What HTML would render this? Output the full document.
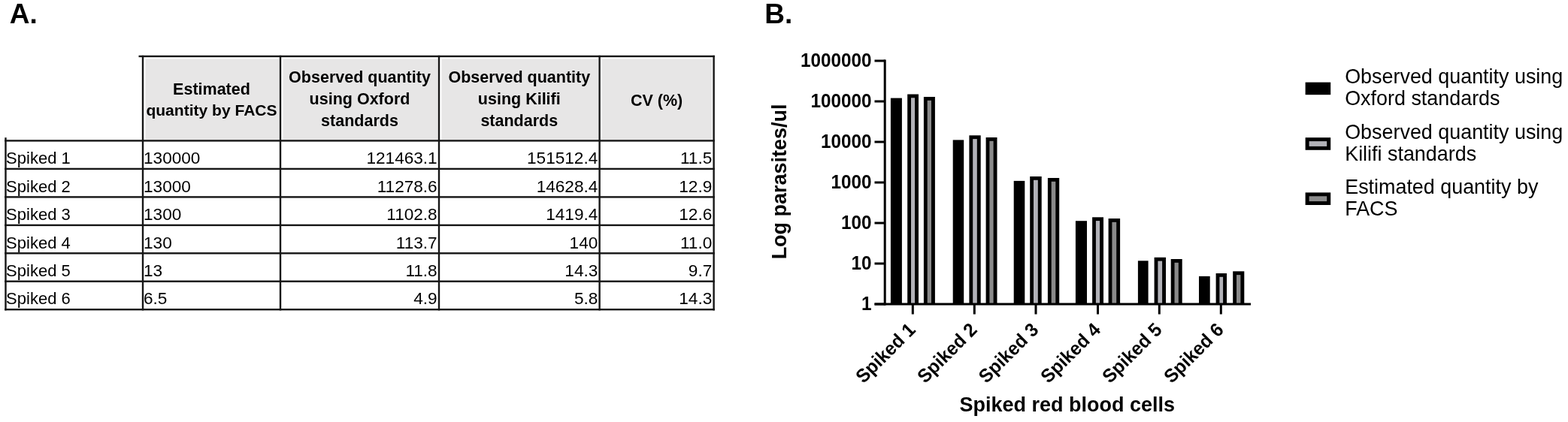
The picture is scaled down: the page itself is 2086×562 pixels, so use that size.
<!DOCTYPE html>
<html lang="en"><head><meta charset="utf-8"><title>Figure</title>
<style>
html,body{margin:0;padding:0;background:#fff;}
body{width:2086px;height:562px;position:relative;overflow:hidden;font-family:"Liberation Sans",Arial,sans-serif;color:#000;}
.lbl{position:absolute;font-weight:bold;font-size:37px;line-height:37px;white-space:nowrap;}
#tbl{position:absolute;left:0;top:0;width:1000px;height:562px;}
.ht{position:absolute;font-weight:bold;font-size:21.5px;line-height:24px;height:24px;text-align:center;white-space:nowrap;}
.c{position:absolute;font-size:22px;line-height:24px;height:24px;white-space:nowrap;}
.r{text-align:right;}
.n{font-size:22.6px;}
svg{position:absolute;left:0;top:0;}
svg text{font-family:"Liberation Sans",Arial,sans-serif;fill:#000;}
</style></head><body>

<svg width="2086" height="562" viewBox="0 0 2086 562">
<rect x="193.5" y="78.5" width="178.0" height="107.4" fill="#e7e6e6"/>
<rect x="376.5" y="78.5" width="206.0" height="107.4" fill="#e7e6e6"/>
<rect x="587.5" y="78.5" width="208.6" height="107.4" fill="#e7e6e6"/>
<rect x="801.1" y="78.5" width="146.1" height="107.4" fill="#e7e6e6"/>
<rect x="184.5" y="73.8" width="766.3" height="2.4" fill="#161616"/>
<rect x="6.2" y="186.2" width="944.6" height="2.4" fill="#161616"/>
<rect x="6.2" y="223.7" width="944.6" height="2.4" fill="#161616"/>
<rect x="6.2" y="261.2" width="944.6" height="2.4" fill="#161616"/>
<rect x="6.2" y="298.7" width="944.6" height="2.4" fill="#161616"/>
<rect x="6.2" y="336.1" width="944.6" height="2.4" fill="#161616"/>
<rect x="6.2" y="373.5" width="944.6" height="2.4" fill="#161616"/>
<rect x="6.2" y="411.0" width="944.6" height="2.4" fill="#161616"/>
<rect x="6.3" y="183.2" width="2.4" height="230.2" fill="#161616"/>
<rect x="188.8" y="73.8" width="2.4" height="339.6" fill="#161616"/>
<rect x="371.8" y="73.8" width="2.4" height="339.6" fill="#161616"/>
<rect x="582.8" y="73.8" width="2.4" height="339.6" fill="#161616"/>
<rect x="796.4" y="73.8" width="2.4" height="339.6" fill="#161616"/>
<rect x="948.4" y="73.8" width="2.4" height="339.6" fill="#161616"/>
<rect x="1184.9" y="130.6" width="15.0" height="274.4" fill="#000"/>
<rect x="1207.2" y="125.5" width="14.8" height="279.5" fill="#000"/>
<rect x="1212.0" y="130.3" width="5.1" height="274.7" fill="#b2b2b8"/>
<rect x="1228.9" y="129.0" width="15.0" height="276.0" fill="#000"/>
<rect x="1233.7" y="133.8" width="5.3" height="271.2" fill="#8a8a8a"/>
<rect x="1267.7" y="186.4" width="14.5" height="218.6" fill="#000"/>
<rect x="1289.4" y="180.3" width="15.3" height="224.7" fill="#000"/>
<rect x="1294.2" y="185.1" width="5.6" height="219.9" fill="#b2b2b8"/>
<rect x="1311.6" y="183.0" width="14.9" height="222.0" fill="#000"/>
<rect x="1316.4" y="187.8" width="5.2" height="217.2" fill="#8a8a8a"/>
<rect x="1348.7" y="240.9" width="14.6" height="164.1" fill="#000"/>
<rect x="1370.2" y="235.0" width="15.5" height="170.0" fill="#000"/>
<rect x="1375.0" y="239.8" width="5.8" height="165.2" fill="#b2b2b8"/>
<rect x="1393.9" y="237.0" width="15.3" height="168.0" fill="#000"/>
<rect x="1398.7" y="241.8" width="5.6" height="163.2" fill="#8a8a8a"/>
<rect x="1430.9" y="294.2" width="15.1" height="110.8" fill="#000"/>
<rect x="1453.1" y="289.3" width="14.9" height="115.7" fill="#000"/>
<rect x="1457.9" y="294.1" width="5.2" height="110.9" fill="#b2b2b8"/>
<rect x="1474.6" y="291.0" width="15.5" height="114.0" fill="#000"/>
<rect x="1479.4" y="295.8" width="5.8" height="109.2" fill="#8a8a8a"/>
<rect x="1513.9" y="347.3" width="13.7" height="57.7" fill="#000"/>
<rect x="1535.6" y="342.8" width="15.4" height="62.2" fill="#000"/>
<rect x="1540.4" y="347.6" width="5.7" height="57.4" fill="#b2b2b8"/>
<rect x="1557.7" y="345.0" width="15.0" height="60.0" fill="#000"/>
<rect x="1562.5" y="349.8" width="5.3" height="55.2" fill="#8a8a8a"/>
<rect x="1595.0" y="367.9" width="14.7" height="37.1" fill="#000"/>
<rect x="1617.6" y="364.0" width="14.4" height="41.0" fill="#000"/>
<rect x="1622.4" y="368.8" width="4.7" height="36.2" fill="#b2b2b8"/>
<rect x="1640.2" y="361.3" width="15.1" height="43.7" fill="#000"/>
<rect x="1645.0" y="366.1" width="5.4" height="38.9" fill="#8a8a8a"/>
<rect x="1175.7" y="79.5" width="3" height="327.0" fill="#000"/>
<rect x="1163.5" y="403.5" width="500.5" height="3" fill="#000"/>
<rect x="1163.5" y="403.5" width="14" height="3" fill="#000"/>
<text transform="translate(1159.4,413.0) scale(1,1.06)" font-size="24.3" font-weight="bold" text-anchor="end">1</text>
<rect x="1163.5" y="349.5" width="14" height="3" fill="#000"/>
<text transform="translate(1159.4,359.0) scale(1,1.06)" font-size="24.3" font-weight="bold" text-anchor="end">10</text>
<rect x="1163.5" y="295.5" width="14" height="3" fill="#000"/>
<text transform="translate(1159.4,305.0) scale(1,1.06)" font-size="24.3" font-weight="bold" text-anchor="end">100</text>
<rect x="1163.5" y="241.5" width="14" height="3" fill="#000"/>
<text transform="translate(1159.4,251.0) scale(1,1.06)" font-size="24.3" font-weight="bold" text-anchor="end">1000</text>
<rect x="1163.5" y="187.5" width="14" height="3" fill="#000"/>
<text transform="translate(1159.4,197.0) scale(1,1.06)" font-size="24.3" font-weight="bold" text-anchor="end">10000</text>
<rect x="1163.5" y="133.5" width="14" height="3" fill="#000"/>
<text transform="translate(1159.4,143.0) scale(1,1.06)" font-size="24.3" font-weight="bold" text-anchor="end">100000</text>
<rect x="1163.5" y="79.5" width="14" height="3" fill="#000"/>
<text transform="translate(1159.4,89.0) scale(1,1.06)" font-size="24.3" font-weight="bold" text-anchor="end">1000000</text>
<rect x="1212.8" y="405.0" width="3" height="13.5" fill="#000"/>
<text transform="translate(1219.3,440.8) rotate(-45) scale(1,1.04)" font-size="24.3" font-weight="bold" text-anchor="end">Spiked 1</text>
<rect x="1294.8" y="405.0" width="3" height="13.5" fill="#000"/>
<text transform="translate(1301.3,440.8) rotate(-45) scale(1,1.04)" font-size="24.3" font-weight="bold" text-anchor="end">Spiked 2</text>
<rect x="1376.5" y="405.0" width="3" height="13.5" fill="#000"/>
<text transform="translate(1383.0,440.8) rotate(-45) scale(1,1.04)" font-size="24.3" font-weight="bold" text-anchor="end">Spiked 3</text>
<rect x="1459.0" y="405.0" width="3" height="13.5" fill="#000"/>
<text transform="translate(1465.5,440.8) rotate(-45) scale(1,1.04)" font-size="24.3" font-weight="bold" text-anchor="end">Spiked 4</text>
<rect x="1540.8" y="405.0" width="3" height="13.5" fill="#000"/>
<text transform="translate(1547.3,440.8) rotate(-45) scale(1,1.04)" font-size="24.3" font-weight="bold" text-anchor="end">Spiked 5</text>
<rect x="1622.8" y="405.0" width="3" height="13.5" fill="#000"/>
<text transform="translate(1629.3,440.8) rotate(-45) scale(1,1.04)" font-size="24.3" font-weight="bold" text-anchor="end">Spiked 6</text>
<text transform="translate(1419.8,547.8) scale(1,1.04)" font-size="27" font-weight="bold" text-anchor="middle">Spiked red blood cells</text>
<text transform="translate(1046.4,241.9) rotate(-90) scale(1,1.04)" font-size="27" font-weight="bold" text-anchor="middle">Log parasites/ul</text>
<rect x="1736.6" y="109.6" width="33.6" height="16.6" fill="#000"/>
<text transform="translate(1789.2,110.9) scale(1,1.04)" font-size="26.9">Observed quantity using</text>
<text transform="translate(1789.2,140.3) scale(1,1.04)" font-size="26.9">Oxford standards</text>
<rect x="1736.6" y="183.2" width="33.6" height="16.6" fill="#000"/>
<rect x="1741.6" y="188.1" width="23.6" height="6.8" fill="#b2b2b8"/>
<text transform="translate(1789.2,184.7) scale(1,1.04)" font-size="26.9">Observed quantity using</text>
<text transform="translate(1789.2,214.1) scale(1,1.04)" font-size="26.9">Kilifi standards</text>
<rect x="1736.6" y="256.4" width="33.6" height="16.6" fill="#000"/>
<rect x="1741.6" y="261.3" width="23.6" height="6.8" fill="#8a8a8a"/>
<text transform="translate(1789.2,257.7) scale(1,1.04)" font-size="26.9">Estimated quantity by</text>
<text transform="translate(1789.2,287.1) scale(1,1.04)" font-size="26.9">FACS</text>
</svg>
<div class="lbl" style="left:12.8px;top:-0.1px;">A.</div>
<div class="lbl" style="left:1017.3px;top:-0.1px;">B.</div>
<div id="tbl">
<div class="ht" style="left:190.0px;width:183.0px;top:106.6px;">Estimated</div>
<div class="ht" style="left:190.0px;width:183.0px;top:135.1px; font-size:21.05px;">quantity by FACS</div>
<div class="ht" style="left:373.0px;width:211.0px;top:90.5px;">Observed quantity</div>
<div class="ht" style="left:373.0px;width:211.0px;top:119.6px;">using Oxford</div>
<div class="ht" style="left:373.0px;width:211.0px;top:148.7px;">standards</div>
<div class="ht" style="left:584.0px;width:213.6px;top:90.5px;">Observed quantity</div>
<div class="ht" style="left:584.0px;width:213.6px;top:119.6px;">using Kilifi</div>
<div class="ht" style="left:584.0px;width:213.6px;top:148.7px;">standards</div>
<div class="ht" style="left:797.6px;width:152.0px;top:121.5px;">CV (%)</div>
<div class="c" style="left:8.1px;top:199.1px;">Spiked 1</div>
<div class="c n" style="left:191.0px;top:199.1px;">130000</div>
<div class="c r n" style="left:373.0px;width:208.7px;top:199.1px;">121463.1</div>
<div class="c r n" style="left:584.0px;width:211.3px;top:199.1px;">151512.4</div>
<div class="c r n" style="left:797.6px;width:149.7px;top:199.1px;">11.5</div>
<div class="c" style="left:8.1px;top:236.6px;">Spiked 2</div>
<div class="c n" style="left:191.0px;top:236.6px;">13000</div>
<div class="c r n" style="left:373.0px;width:208.7px;top:236.6px;">11278.6</div>
<div class="c r n" style="left:584.0px;width:211.3px;top:236.6px;">14628.4</div>
<div class="c r n" style="left:797.6px;width:149.7px;top:236.6px;">12.9</div>
<div class="c" style="left:8.1px;top:274.1px;">Spiked 3</div>
<div class="c n" style="left:191.0px;top:274.1px;">1300</div>
<div class="c r n" style="left:373.0px;width:208.7px;top:274.1px;">1102.8</div>
<div class="c r n" style="left:584.0px;width:211.3px;top:274.1px;">1419.4</div>
<div class="c r n" style="left:797.6px;width:149.7px;top:274.1px;">12.6</div>
<div class="c" style="left:8.1px;top:311.5px;">Spiked 4</div>
<div class="c n" style="left:191.0px;top:311.5px;">130</div>
<div class="c r n" style="left:373.0px;width:208.7px;top:311.5px;">113.7</div>
<div class="c r n" style="left:584.0px;width:211.3px;top:311.5px;">140</div>
<div class="c r n" style="left:797.6px;width:149.7px;top:311.5px;">11.0</div>
<div class="c" style="left:8.1px;top:348.9px;">Spiked 5</div>
<div class="c n" style="left:191.0px;top:348.9px;">13</div>
<div class="c r n" style="left:373.0px;width:208.7px;top:348.9px;">11.8</div>
<div class="c r n" style="left:584.0px;width:211.3px;top:348.9px;">14.3</div>
<div class="c r n" style="left:797.6px;width:149.7px;top:348.9px;">9.7</div>
<div class="c" style="left:8.1px;top:386.4px;">Spiked 6</div>
<div class="c n" style="left:191.0px;top:386.4px;">6.5</div>
<div class="c r n" style="left:373.0px;width:208.7px;top:386.4px;">4.9</div>
<div class="c r n" style="left:584.0px;width:211.3px;top:386.4px;">5.8</div>
<div class="c r n" style="left:797.6px;width:149.7px;top:386.4px;">14.3</div>
</div>
</body></html>
